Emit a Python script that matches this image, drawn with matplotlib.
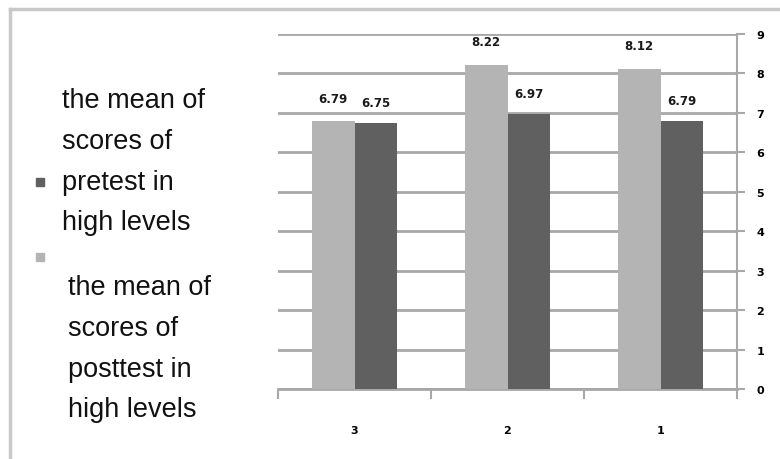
import matplotlib
matplotlib.use("Agg")
import matplotlib.pyplot as plt
from matplotlib.lines import Line2D
from matplotlib.patches import Rectangle
import numpy as np

categories = ["3", "2", "1"]
posttest = [6.79, 8.22, 8.12]
pretest = [6.75, 6.97, 6.79]
post_labels = ["6.79", "8.22", "8.12"]
pre_labels = ["6.75", "6.97", "6.79"]
pre_legend = "the mean of\nscores of\npretest in\nhigh levels"
post_legend = "the mean of\nscores of\nposttest in\nhigh levels"
yticks = list(range(0, 10))

light = "#b4b4b4"
dark = "#606060"
gridc = "#a8a8a8"

plt.rcParams['font.family'] = ['Liberation Sans', 'DejaVu Sans']

fig = plt.figure(figsize=(7.8, 4.6), dpi=100)
ax = fig.add_axes([278/780, 1-390/460, (737-278)/780, (390-35)/460])

x = np.arange(len(categories))
w = 0.28
ax.bar(x - w/2, posttest, width=w, color=light, zorder=3)
ax.bar(x + w/2, pretest, width=w, color=dark, zorder=3)

lab_font = dict(fontsize=8.5, fontweight="bold", color="#1a1a1a", family="DejaVu Sans")
for xi, v, lab in zip(x, posttest, post_labels):
    ax.annotate(lab, (xi - w/2, v), xytext=(0, 12), textcoords="offset points",
                ha="center", va="bottom", **lab_font)
for xi, v, lab in zip(x, pretest, pre_labels):
    ax.annotate(lab, (xi + w/2, v), xytext=(0, 10), textcoords="offset points",
                ha="center", va="bottom", **lab_font)

ax.set_xlim(-0.5, 2.5)
ax.set_ylim(0, 9)
ax.yaxis.tick_right()
ax.set_yticks(yticks)
ax.set_yticklabels([str(t) for t in yticks], fontsize=8, fontweight="bold", family="DejaVu Sans")
ax.tick_params(axis="y", length=6, width=1.5, color=gridc, pad=8)
ax.set_xticks([-0.5, 0.5, 1.5, 2.5])
ax.set_xticklabels([])
ax.set_xticks(x, minor=True)
ax.set_xticklabels(categories, minor=True, fontsize=8, fontweight="bold", family="DejaVu Sans")
ax.tick_params(axis="x", which="major", length=7, width=1.5, color=gridc, direction="out")
ax.tick_params(axis="x", which="minor", length=0, pad=26)
ax.grid(axis="y", color=gridc, linewidth=2, zorder=0)
for s in ["top", "left"]:
    ax.spines[s].set_visible(False)
ax.spines["right"].set_color(gridc)
ax.spines["right"].set_linewidth(1.5)
ax.spines["bottom"].set_color(gridc)
ax.spines["bottom"].set_linewidth(2)

# legend
fig.patches.append(Rectangle((36/780, 1-187/460), 8/780, 8/460, transform=fig.transFigure,
                             color=dark, figure=fig))
fig.patches.append(Rectangle((36/780, 1-262/460), 8/780, 8/460, transform=fig.transFigure,
                             color=light, figure=fig))
fig.text(62/780, 1-88/460, pre_legend, fontsize=19.5, va="top", ha="left",
         linespacing=1.74, color="#111111")
fig.text(68/780, 1-275/460, post_legend, fontsize=19.5, va="top", ha="left",
         linespacing=1.74, color="#111111")

# outer border
fig.lines.append(Line2D([10/780, 1], [1-10/460, 1-10/460], transform=fig.transFigure,
                        color="#c8c8c8", linewidth=2.5))
fig.lines.append(Line2D([10/780, 10/780], [0, 1-10/460], transform=fig.transFigure,
                        color="#c8c8c8", linewidth=2.5))

fig.savefig("out.png", dpi=100)
